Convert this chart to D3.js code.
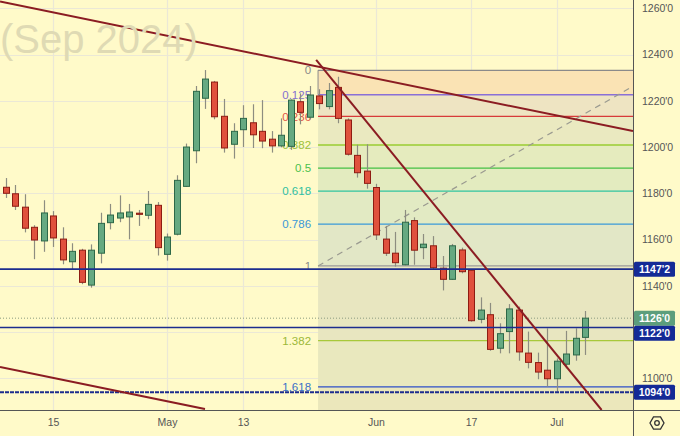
<!DOCTYPE html>
<html><head><meta charset="utf-8">
<script src="https://cdn.jsdelivr.net/npm/d3@7"></script>
<style>html,body{margin:0;padding:0;background:#fffac9;}svg{display:block;}</style>
</head><body>
<svg id="chart" width="680" height="436"></svg>
<script>
// ---------------- DATA ----------------
const dates = ["2024-04-08","2024-04-09","2024-04-10","2024-04-11","2024-04-12","2024-04-15","2024-04-16","2024-04-17","2024-04-18","2024-04-19",
"2024-04-22","2024-04-23","2024-04-24","2024-04-25","2024-04-26","2024-04-29","2024-04-30","2024-05-01","2024-05-02","2024-05-03",
"2024-05-06","2024-05-07","2024-05-08","2024-05-09","2024-05-10","2024-05-13","2024-05-14","2024-05-15","2024-05-16","2024-05-17",
"2024-05-20","2024-05-21","2024-05-22","2024-05-23","2024-05-24","2024-05-28","2024-05-29","2024-05-30","2024-05-31","2024-06-03",
"2024-06-04","2024-06-05","2024-06-06","2024-06-07","2024-06-10","2024-06-11","2024-06-12","2024-06-13","2024-06-14","2024-06-17",
"2024-06-18","2024-06-20","2024-06-21","2024-06-24","2024-06-25","2024-06-26","2024-06-27","2024-06-28","2024-07-01","2024-07-02",
"2024-07-03","2024-07-05"];
const openV  = [1182.6,1179.8,1174.0,1165.3,1159.4,1170.2,1160.2,1150.4,1155.4,1140.3,1154.1,1167.3,1169.3,1169.8,1171.4,1170.5,1174.8,1153.6,1162.3,1183.0,
1198.4,1221.1,1228.1,1213.3,1201.2,1207.5,1210.5,1206.8,1203.4,1200.5,1200.3,1219.6,1212.9,1222.1,1217.5,1225.8,1211.7,1196.4,1189.6,1182.5,
1160.2,1154.1,1149.1,1168.2,1156.5,1157.3,1147.6,1142.8,1155.5,1146.7,1125.5,1127.5,1113.0,1120.2,1129.5,1110.9,1106.8,1103.5,1099.8,1106.1,
1110.1,1117.7];
const highV  = [1186.6,1183.6,1179.6,1166.2,1177.0,1172.3,1165.3,1158.4,1156.0,1157.9,1171.6,1175.4,1179.1,1175.4,1172.8,1181.0,1176.2,1162.6,1187.8,1201.5,
1226.4,1233.3,1228.6,1220.8,1210.3,1218.1,1218.5,1220.3,1206.9,1212.4,1220.6,1223.2,1226.4,1225.0,1227.7,1230.4,1212.4,1201.0,1201.2,1184.1,
1165.9,1163.3,1172.8,1169.6,1162.4,1161.5,1152.9,1158.1,1156.5,1146.8,1135.0,1132.6,1123.8,1132.1,1131.0,1120.2,1111.1,1121.6,1108.6,1120.5,
1121.6,1129.1];
const lowV   = [1178.0,1172.8,1163.1,1151.5,1154.7,1156.8,1149.3,1147.1,1140.7,1139.2,1149.7,1164.4,1167.5,1160.1,1165.9,1168.8,1153.1,1150.9,1161.8,1182.8,
1193.0,1216.5,1212.0,1197.6,1195.0,1200.0,1199.6,1199.5,1197.6,1199.9,1198.8,1209.8,1212.0,1216.3,1216.3,1210.3,1196.3,1186.8,1182.0,1159.8,
1152.9,1148.3,1148.8,1149.1,1151.5,1147.1,1138.0,1142.5,1145.4,1124.5,1123.8,1111.9,1110.8,1110.8,1107.6,1104.3,1099.6,1096.4,1094.2,1104.3,
1107.6,1110.1];
const closeV = [1180.0,1174.4,1164.9,1159.8,1171.5,1160.7,1151.2,1154.9,1141.5,1155.4,1167.0,1170.6,1171.5,1171.9,1170.9,1175.2,1156.5,1161.1,1185.6,1200.0,
1224.1,1229.4,1213.1,1199.6,1206.8,1212.4,1205.3,1202.6,1200.5,1205.1,1220.3,1215.0,1222.5,1218.8,1224.4,1212.4,1196.9,1188.9,1184.3,1162.0,
1154.1,1150.0,1167.5,1155.4,1158.0,1147.8,1142.8,1157.3,1146.1,1124.9,1129.5,1112.5,1119.3,1130.0,1111.4,1106.9,1102.7,1099.8,1107.4,1110.5,
1117.3,1126.0];

const xTickDates  = ["2024-04-15","2024-05-01","2024-05-13","2024-06-03","2024-06-17","2024-07-01"];
const xTickLabels = ["15","May","13","Jun","17","Jul"];
const priceTicks  = [1100,1120,1140,1160,1180,1200,1220,1240,1260];

// fibonacci retracement (price at level 0 and level 1, start bar index)
const fibLevels = [0,0.125,0.236,0.382,0.5,0.618,0.786,1,1.382,1.618];
const fibLabels = ["0","0.125","0.236","0.382","0.5","0.618","0.786","1","1.382","1.618"];
const fibHigh = 1233.2, fibLow = 1148.6, fibStart = 32.9, fibEnd = 69;

// trend lines: [barIndex, price]
const trendLines = [
  [[-0.58,1262.9],[66.05,1206.9]],
  [[32.7,1237.7],[62.75,1086.3]],
  [[-0.58,1104.9],[21.0,1086.7]]
];
// horizontal levels
const hLevels = [1147.2,1122.0,1094.0];
const lastPrice = 1126.0;
const watermark = "(Sep 2024)";

// ---------------- STYLES ----------------
const W = 680, H = 436, plotR = 633, plotB = 410;
const fibLineColors = ["#8a8a8a","#8a6fd6","#d83a3a","#9acd32","#44c044","#2fc4a0","#3a9ad8","#9a9a9a","#a8c83a","#2c4fc8"];
const fibLabelColors= ["#8a8a8a","#8470d0","#e05545","#9cc23a","#4cc04c","#30c0a0","#3a98d8","#8a8a8a","#9cb838","#3a70c8"];
const fibBandColors = ["#fae3b4","#eee4c2","#eae9c0","#e5ebbe","#e3ebbf","#e2eac3","#e2e7c6","#e8e6c0","#e9e8be","#ebe7bb"];

const svg = d3.select("#chart");
const n = dates.length;
const idx = new Map(dates.map((d,i)=>[d,i]));
const x = d3.scaleLinear().domain([0,66]).range([5.5,632.5]);
const y = d3.scaleLinear().domain([1100,1260]).range([378.3,8.3]);

svg.append("rect").attr("width",W).attr("height",H).attr("fill","#fffac9");

const defs = svg.append("defs");
defs.append("clipPath").attr("id","plot").append("rect").attr("x",0).attr("y",0).attr("width",plotR).attr("height",plotB);

const g = svg.append("g").attr("clip-path","url(#plot)");

// grid
g.selectAll(".hg").data(priceTicks).join("line")
  .attr("x1",0).attr("x2",plotR).attr("y1",d=>Math.round(y(d))+0.5).attr("y2",d=>Math.round(y(d))+0.5)
  .attr("stroke","#ebe8d6").attr("stroke-width",1.2);
g.selectAll(".vg").data(xTickDates).join("line")
  .attr("x1",d=>Math.round(x(idx.get(d)))+0.5).attr("x2",d=>Math.round(x(idx.get(d)))+0.5).attr("y1",0).attr("y2",plotB)
  .attr("stroke","#ebe8d6").attr("stroke-width",1.2);

// watermark
svg.append("text").attr("x",0).attr("y",53).text(watermark)
  .attr("font-family","Liberation Sans, Arial, sans-serif").attr("font-size",40)
  .attr("fill","#dfdab4");

// fib
const fibPrice = l => fibLow + (fibHigh-fibLow)*(1-l);
const fx0 = x(fibStart);
const bandEdges = fibLevels.map(fibPrice).concat([1080]);
g.selectAll(".band").data(fibBandColors).join("rect")
  .attr("x",fx0).attr("width",plotR-fx0)
  .attr("y",(c,i)=>y(bandEdges[i])).attr("height",(c,i)=>y(bandEdges[i+1])-y(bandEdges[i]))
  .attr("fill",c=>c);
g.selectAll(".fl").data(fibLevels).join("line")
  .attr("x1",fx0).attr("x2",plotR)
  .attr("y1",l=>y(fibPrice(l))).attr("y2",l=>y(fibPrice(l)))
  .attr("stroke",(l,i)=>fibLineColors[i]).attr("stroke-width",1.3);
g.append("line").attr("x1",fx0).attr("x2",fx0).attr("y1",y(fibHigh)).attr("y2",y(fibPrice(0.125)))
  .attr("stroke","#8a8a8a").attr("stroke-width",1);
g.append("line")
  .attr("x1",x(fibStart)).attr("y1",y(fibLow)).attr("x2",x(fibEnd)).attr("y2",y(fibHigh))
  .attr("stroke","#9a9a90").attr("stroke-width",1.2).attr("stroke-dasharray","6,5");
g.selectAll(".flab").data(fibLevels).join("text")
  .attr("x",fx0-7).attr("y",l=>y(fibPrice(l))).attr("dy","0.36em")
  .attr("text-anchor","end").attr("font-family","Liberation Sans, Arial, sans-serif").attr("font-size",11.5)
  .attr("fill",(l,i)=>fibLabelColors[i]).text((l,i)=>fibLabels[i]);

// last price dotted
g.append("line").attr("x1",0).attr("x2",plotR).attr("y1",y(lastPrice)).attr("y2",y(lastPrice))
  .attr("stroke","#8a9a80").attr("stroke-width",1).attr("stroke-dasharray","1,2");

// candles
const bw = 6;
const cg = g.append("g");
const ids = d3.range(n);
cg.selectAll(".wick").data(ids).join("line")
  .attr("x1",i=>Math.round(x(i))+0.5).attr("x2",i=>Math.round(x(i))+0.5)
  .attr("y1",i=>y(highV[i])).attr("y2",i=>y(lowV[i]))
  .attr("stroke","#8d8d80").attr("stroke-width",1.2);
cg.selectAll(".body").data(ids).join("rect")
  .attr("x",i=>Math.round(x(i))-bw/2+0.5).attr("width",bw)
  .attr("y",i=>y(Math.max(openV[i],closeV[i])))
  .attr("height",i=>Math.max(1,Math.abs(y(openV[i])-y(closeV[i]))))
  .attr("fill",i=>closeV[i]>=openV[i]?"#66a981":"#e0513d")
  .attr("stroke",i=>closeV[i]>=openV[i]?"#2d6848":"#8e1c12").attr("stroke-width",1);

// horizontal levels
g.selectAll(".hl").data(hLevels).join("line")
  .attr("x1",0).attr("x2",plotR).attr("y1",d=>y(d)).attr("y2",d=>y(d))
  .attr("stroke","#1c2c8e").attr("stroke-width",(d,i)=>i===2?2:1.6)
  .attr("stroke-dasharray",(d,i)=>i===2?"4,1":null);

// trend lines
g.selectAll(".tl").data(trendLines).join("line")
  .attr("x1",d=>x(d[0][0])).attr("y1",d=>y(d[0][1]))
  .attr("x2",d=>x(d[1][0])).attr("y2",d=>y(d[1][1]))
  .attr("stroke","#8b1c22").attr("stroke-width",2);

// axes lines
svg.append("line").attr("x1",plotR+0.5).attr("x2",plotR+0.5).attr("y1",0).attr("y2",H).attr("stroke","#555").attr("stroke-width",1);
svg.append("line").attr("x1",0).attr("x2",W).attr("y1",plotB+0.5).attr("y2",plotB+0.5).attr("stroke","#555").attr("stroke-width",1);

// price boxes
const fmt = v => { const s = v.toFixed(1).split("."); return s[0]+"'"+s[1]; };
const boxes = [
  {v:1147.2,c:"#142a96"},{v:lastPrice,c:"#5c9e7c"},{v:1122.0,c:"#142a96"},{v:1094.0,c:"#142a96"}
].map(b=>({...b,cy:y(b.v)})).sort((a,b)=>a.cy-b.cy);
const bh = 15;
for (let i=1;i<boxes.length;i++){ if (boxes[i].cy-boxes[i-1].cy<bh) boxes[i].cy = boxes[i-1].cy+bh; }

// right axis ticks (hide where a box sits)
const visTicks = priceTicks.filter(p=>boxes.every(b=>Math.abs(b.cy-y(p))>11));
const yAxis = d3.axisRight(y).tickValues(visTicks).tickFormat(fmt).tickSize(0).tickPadding(9);
const ya = svg.append("g").attr("transform",`translate(${plotR},0)`).call(yAxis);
ya.select(".domain").remove();
ya.selectAll("text").attr("font-family","Liberation Sans, Arial, sans-serif").attr("font-size",10.5).attr("fill","#555");

const bg = svg.append("g");
bg.selectAll("rect").data(boxes).join("rect")
  .attr("x",plotR+1).attr("width",41).attr("y",d=>d.cy-bh/2).attr("height",bh).attr("rx",1.5)
  .attr("fill",d=>d.c);
bg.selectAll("text").data(boxes).join("text")
  .attr("x",plotR+21.5).attr("y",d=>d.cy).attr("dy","0.36em").attr("text-anchor","middle")
  .attr("font-family","Liberation Sans, Arial, sans-serif").attr("font-size",10.5).attr("font-weight","bold")
  .attr("fill","#fff").text(d=>fmt(d.v));

// bottom axis
const xAxis = d3.axisBottom(x).tickValues(xTickDates.map(d=>idx.get(d)))
  .tickFormat((d,i)=>xTickLabels[i]).tickSize(0).tickPadding(9);
const xa = svg.append("g").attr("transform",`translate(0,${plotB})`).call(xAxis);
xa.select(".domain").remove();
xa.selectAll("text").attr("font-family","Liberation Sans, Arial, sans-serif").attr("font-size",10.5).attr("fill","#555");

// settings icon
const cx = 657, cyI = 423, r = 7;
const hex = d3.range(6).map(k=>[cx+r*Math.cos(Math.PI/3*k), cyI+r*Math.sin(Math.PI/3*k)]);
svg.append("path").attr("d",d3.line()(hex)+"Z").attr("fill","none").attr("stroke","#333").attr("stroke-width",1.3);
svg.append("circle").attr("cx",cx).attr("cy",cyI).attr("r",2.3).attr("fill","none").attr("stroke","#333").attr("stroke-width",1.3);
</script>
</body></html>
